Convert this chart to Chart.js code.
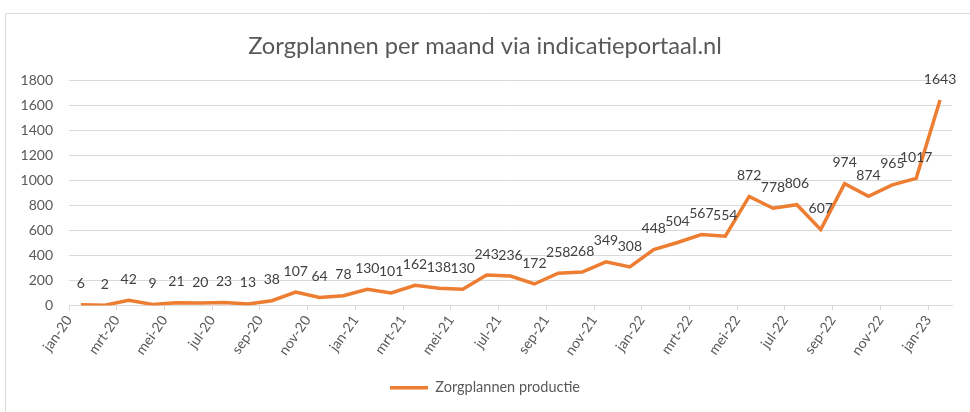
<!DOCTYPE html>
<html>
<head>
<meta charset="utf-8">
<script src="https://cdn.jsdelivr.net/npm/chart.js@4/dist/chart.umd.min.js"></script>
<style>
  html, body { margin: 0; padding: 0; background: #fff; }
  #wrap { width: 970px; height: 412px; }
</style>
</head>
<body>
<div id="wrap"><canvas id="myChart"></canvas></div>
<script>
var months = ['jan-20', 'feb-20', 'mrt-20', 'apr-20', 'mei-20', 'jun-20', 'jul-20', 'aug-20', 'sep-20', 'okt-20', 'nov-20', 'dec-20',
              'jan-21', 'feb-21', 'mrt-21', 'apr-21', 'mei-21', 'jun-21', 'jul-21', 'aug-21', 'sep-21', 'okt-21', 'nov-21', 'dec-21',
              'jan-22', 'feb-22', 'mrt-22', 'apr-22', 'mei-22', 'jun-22', 'jul-22', 'aug-22', 'sep-22', 'okt-22', 'nov-22', 'dec-22',
              'jan-23'];
var productie = [6, 2, 42, 9, 21, 20, 23, 13, 38, 107, 64, 78,
                 130, 101, 162, 138, 130, 243, 236, 172, 258, 268, 349, 308,
                 448, 504, 567, 554, 872, 778, 806, 607, 974, 874, 965, 1017,
                 1643];
var yTicks = [0, 200, 400, 600, 800, 1000, 1200, 1400, 1600, 1800];

var textColor = '#595959';
var orange = '#ed7d31';
var fontFam = 'Lato, "Noto Sans", sans-serif';

// punten in het midden van de maand, zoals excel
var points = productie.map(function (v, i) { return { x: i + 0.5, y: v }; });

// kader rond de grafiek
var frame = {
    id: 'frame',
    beforeDraw: function (chart) {
        var c = chart.ctx;
        c.save();
        c.strokeStyle = '#d9d9d9';
        c.lineWidth = 1;
        c.beginPath();
        c.moveTo(5.5, 412);
        c.lineTo(5.5, 13.5);
        c.lineTo(970, 13.5);
        c.stroke();
        c.restore();
    }
};

// waardes boven de punten
var valueLabels = {
    id: 'valueLabels',
    afterDatasetsDraw: function (chart) {
        var c = chart.ctx;
        var meta = chart.getDatasetMeta(0);
        c.save();
        c.font = '14px ' + fontFam;
        c.fillStyle = '#404040';
        c.textAlign = 'center';
        c.textBaseline = 'middle';
        meta.data.forEach(function (pt, i) {
            c.fillText(productie[i], pt.x, pt.y - 21);
        });
        c.restore();
    }
};

var ctx = document.getElementById('myChart');
var myChart = new Chart(ctx, {
    type: 'line',
    data: {
        datasets: [{
            label: 'Zorgplannen productie',
            data: points,
            borderColor: orange,
            backgroundColor: orange,
            borderWidth: 3.5,
            pointRadius: 0,
            tension: 0,
            fill: false
        }]
    },
    options: {
        responsive: true,
        maintainAspectRatio: false,
        animation: false,
        layout: { padding: { left: 0, right: 0, top: 0, bottom: 7 } },
        plugins: {
            title: {
                display: true,
                text: 'Zorgplannen per maand via indicatieportaal.nl',
                color: textColor,
                font: { family: fontFam, size: 23.7, weight: 'normal' },
                padding: { top: 32, bottom: 20 }
            },
            legend: {
                position: 'bottom',
                labels: {
                    usePointStyle: true,
                    pointStyle: 'line',
                    pointStyleWidth: 38,
                    color: textColor,
                    font: { family: fontFam, size: 14.5 }
                }
            },
            tooltip: { enabled: false }
        },
        scales: {
            x: {
                type: 'linear',
                min: 0,
                max: months.length,
                afterBuildTicks: function (s) {
                    s.ticks = [];
                    for (var i = 0; i < months.length; i += 2) s.ticks.push({ value: i });
                },
                afterFit: function (s) { s.height = 65; },
                border: { display: true, color: '#d9d9d9' },
                grid: { drawOnChartArea: false, drawTicks: true, tickLength: 5, color: '#d9d9d9' },
                ticks: {
                    autoSkip: false,
                    minRotation: 55,
                    maxRotation: 55,
                    padding: 2,
                    color: textColor,
                    font: { family: fontFam, size: 14 },
                    callback: function (v) { return months[v]; }
                }
            },
            y: {
                min: 0,
                max: 1800,
                afterBuildTicks: function (s) {
                    s.ticks = yTicks.map(function (v) { return { value: v }; });
                },
                afterFit: function (s) { s.width = 69; },
                border: { display: false },
                grid: { color: '#d9d9d9', lineWidth: 1, drawTicks: false },
                ticks: {
                    padding: 16,
                    color: textColor,
                    font: { family: fontFam, size: 14 },
                    callback: function (v) { return String(v); }
                }
            },
            // lege ruimte rechts, zodat titel en legenda midden blijven
            yRight: {
                position: 'right',
                min: 0,
                max: 1800,
                afterFit: function (s) { s.width = 18; },
                border: { display: false },
                grid: { display: false },
                ticks: { display: false }
            }
        }
    },
    plugins: [frame, valueLabels]
});
</script>
</body>
</html>
